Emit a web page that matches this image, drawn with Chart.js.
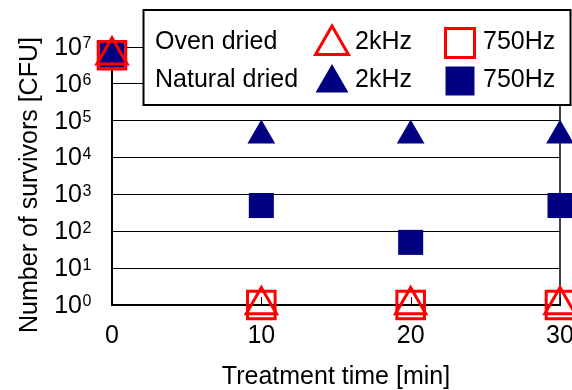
<!DOCTYPE html>
<html><head><meta charset="utf-8">
<script src="https://cdn.jsdelivr.net/npm/chart.js@4/dist/chart.umd.min.js"></script>
<style>html,body{margin:0;padding:0;background:#fff}#wrap{width:572px;height:390px}</style>
</head><body><div id="wrap"><canvas id="c" width="572" height="390"></canvas></div>
<script>
const times = [0, 10, 20, 30];
const ovenDried2kHz = [6e6, 1, 1, 1];
const ovenDried750Hz = [6e6, 1, 1, 1];
const naturalDried2kHz = [6e6, 4e4, 4e4, 4e4];
const naturalDried750Hz = [6e6, 5e2, 5e1, 5e2];
const yTicks = [1, 10, 100, 1e3, 1e4, 1e5, 1e6, 1e7];
const xTicks = [0, 10, 20, 30];
const groups = ['Oven dried', 'Natural dried'];
const freqs = ['2kHz', '750Hz'];
const xTitle = 'Treatment time [min]';
const yTitle = 'Number of survivors [CFU]';

const FONT = "'Liberation Sans', Arial, sans-serif";
const RED = '#ff0000', NAVY = '#000080';
const pts = arr => times.map((t, i) => ({x: t, y: arr[i]}));

const datasets = [
  {label: groups[0] + ' ' + freqs[1], data: pts(ovenDried750Hz), pointStyle: 'rect', pointRadius: 19.5, pointBorderWidth: 3, pointBorderColor: RED, pointBackgroundColor: 'rgba(0,0,0,0)', group: 0, freq: 1, order: 0},
  {label: groups[0] + ' ' + freqs[0], data: pts(ovenDried2kHz), pointStyle: 'triangle', pointRadius: 17.5, pointBorderWidth: 3, pointBorderColor: RED, pointBackgroundColor: 'rgba(0,0,0,0)', group: 0, freq: 0, order: 1},
  {label: groups[1] + ' ' + freqs[1], data: pts(naturalDried750Hz), pointStyle: 'rect', pointRadius: 17.7, pointBorderWidth: 0, pointBorderColor: NAVY, pointBackgroundColor: NAVY, group: 1, freq: 1, order: 2},
  {label: groups[1] + ' ' + freqs[0], data: pts(naturalDried2kHz), pointStyle: 'triangle', pointRadius: 16, pointBorderWidth: 0, pointBorderColor: NAVY, pointBackgroundColor: NAVY, group: 1, freq: 0, order: 3}
].map(d => Object.assign(d, {showLine: false, clip: false, pointHoverRadius: d.pointRadius}));

function drawMarker(ctx, style, r, x, y, fill, stroke, bw) {
  ctx.save();
  ctx.beginPath();
  if (style === 'rect') {
    const s = Math.SQRT1_2 * r;
    ctx.rect(x - s, y - s, 2 * s, 2 * s);
  } else {
    ctx.moveTo(x, y - r);
    ctx.lineTo(x + Math.sin(2 * Math.PI / 3) * r, y + r / 2);
    ctx.lineTo(x - Math.sin(2 * Math.PI / 3) * r, y + r / 2);
    ctx.closePath();
  }
  ctx.fillStyle = fill; ctx.fill();
  if (bw > 0) { ctx.lineWidth = bw; ctx.strokeStyle = stroke; ctx.lineJoin = 'miter'; ctx.stroke(); }
  ctx.restore();
}

const decor = {
  id: 'decor',
  beforeDatasetsDraw(chart) {
    const ctx = chart.ctx, a = chart.chartArea, xs = chart.scales.x, ys = chart.scales.y;
    ctx.save();
    ctx.strokeStyle = '#000';
    ctx.lineWidth = 1.5;
    ctx.beginPath(); ctx.moveTo(a.right, a.top); ctx.lineTo(a.right, a.bottom); ctx.stroke();
    ctx.lineWidth = 1;
    xs.ticks.forEach(t => {
      const px = Math.round(xs.getPixelForValue(t.value)) + 0.5;
      ctx.beginPath(); ctx.moveTo(px, a.bottom); ctx.lineTo(px, a.bottom - 8); ctx.stroke();
    });
    // y tick labels with superscript exponents
    ctx.fillStyle = '#000';
    ys.ticks.forEach(t => {
      const py = ys.getPixelForValue(t.value);
      const e = Math.round(Math.log10(t.value));
      ctx.font = '25px ' + FONT;
      ctx.textAlign = 'right'; ctx.textBaseline = 'middle';
      ctx.fillText('10', 82, py + 1);
      ctx.font = '16px ' + FONT;
      ctx.textAlign = 'left'; ctx.textBaseline = 'top';
      ctx.fillText(String(e), 82.5, py - 11);
    });
    // y axis title
    ctx.save();
    ctx.translate(30, 185);
    ctx.rotate(-Math.PI / 2);
    ctx.font = '25px ' + FONT;
    ctx.textAlign = 'center'; ctx.textBaseline = 'middle';
    ctx.fillText(yTitle, 0, 0);
    ctx.restore();
    ctx.restore();
  },
  afterDraw(chart) {
    const ctx = chart.ctx;
    ctx.save();
    const L = 143.5, T = 10, W = 427, H = 95;
    ctx.fillStyle = '#fff';
    ctx.fillRect(L, T, W, H);
    ctx.lineWidth = 2; ctx.strokeStyle = '#000';
    ctx.strokeRect(L, T, W, H);
    ctx.fillStyle = '#000';
    ctx.font = '25px ' + FONT;
    ctx.textBaseline = 'middle'; ctx.textAlign = 'left';
    const rowY = [42, 80];
    groups.forEach((g, i) => ctx.fillText(g, 155, rowY[i]));
    const markX = [332, 460], textX = [355, 483];
    chart.data.datasets.forEach(d => {
      const y = rowY[d.group];
      const big = d.pointStyle === 'triangle' ? 19 : 20.5;
      const my = d.pointStyle === 'triangle' ? y + 3 : y + 1;
      drawMarker(ctx, d.pointStyle, big, markX[d.freq], my, d.pointBackgroundColor, d.pointBorderColor, d.pointBorderWidth);
      ctx.fillStyle = '#000';
      ctx.fillText(freqs[d.freq], textX[d.freq], y);
    });
    ctx.restore();
  }
};

new Chart(document.getElementById('c'), {
  type: 'scatter',
  data: {datasets},
  options: {
    responsive: false,
    animation: false,
    events: [],
    layout: {autoPadding: false, padding: {top: 47, right: 12, left: 0, bottom: 0}},
    plugins: {legend: {display: false}, tooltip: {enabled: false}},
    scales: {
      x: {
        type: 'linear', min: 0, max: 30,
        afterBuildTicks: s => { s.ticks = xTicks.map(v => ({value: v})); },
        afterFit: s => { s.height = 85; s.paddingLeft = 0; s.paddingRight = 0; },
        grid: {display: false, drawTicks: false},
        border: {display: true, color: '#000', width: 2},
        ticks: {color: '#000', font: {family: FONT, size: 25}, padding: 16, maxRotation: 0},
        title: {display: true, text: xTitle, color: '#000', font: {family: FONT, size: 25, lineHeight: 1}, padding: {top: 0, bottom: 0}}
      },
      y: {
        type: 'logarithmic', min: 1, max: 1e7,
        afterBuildTicks: s => { s.ticks = yTicks.map(v => ({value: v})); },
        afterFit: s => { s.width = 112; s.paddingTop = 0; s.paddingBottom = 0; },
        grid: {color: '#000', lineWidth: 1, drawTicks: false},
        border: {display: true, color: '#000', width: 2},
        ticks: {display: false},
        title: {display: false}
      }
    }
  },
  plugins: [decor]
});
</script>
</body></html>
